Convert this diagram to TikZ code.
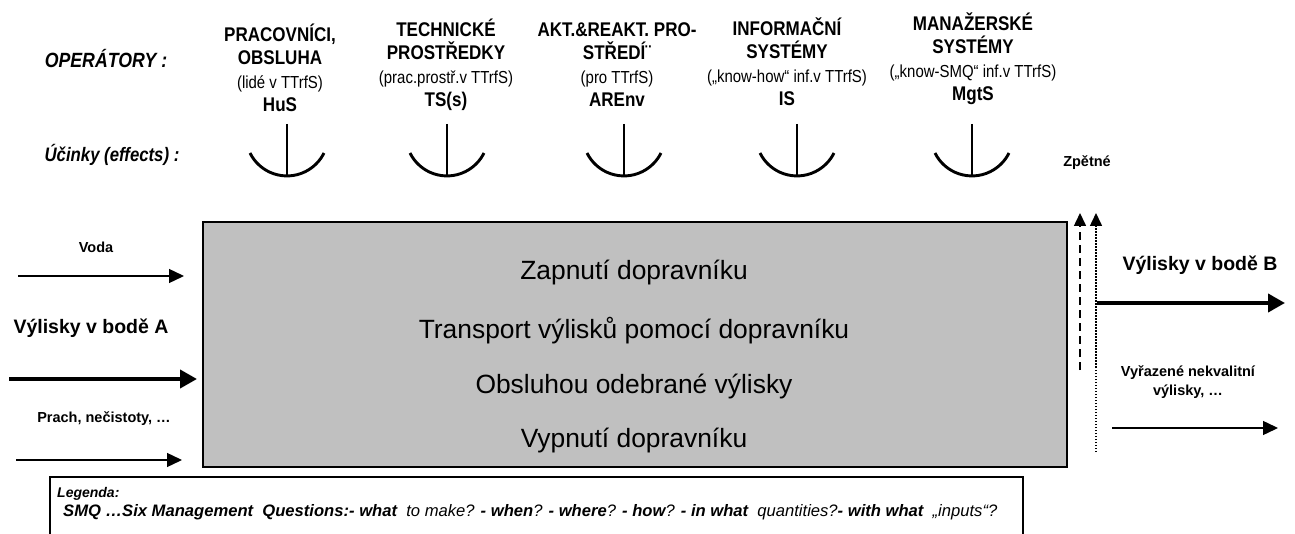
\documentclass[tikz,border=0pt]{standalone}
\usepackage{fontspec}
\setmainfont{Liberation Sans}
\newfontfamily\narrowsans[FakeStretch=0.86]{Liberation Sans}
\usepackage{tikz}
\usetikzlibrary{arrows.meta, positioning}
\definecolor{boxgray}{RGB}{192, 192, 192}
\newcommand{\opsmall}{\mdseries\fontsize{17.4}{23.5}\selectfont}
\newcommand{\effect}[1]{%
  \draw[line width=2.9pt] (#1,-124) -- (#1,-176);
  \draw[line width=2.9pt] (#1-37,-153) arc[start angle=206.4, end angle=333.6, radius=41.3];
}

\begin{document}
\begin{tikzpicture}[x=1pt, y=1pt,
    oper/.style={font=\narrowsans\bfseries\fontsize{19.8}{23.5}\selectfont, align=center, inner sep=0pt, anchor=base},
    lbl/.style={font=\bfseries\fontsize{14.5}{19}\selectfont, align=center, inner sep=0pt},
    biglbl/.style={font=\bfseries\fontsize{19.5}{23}\selectfont, inner sep=0pt},
    boxtext/.style={font=\fontsize{26.4}{30}\selectfont, inner sep=0pt, anchor=base},
    thinarrow/.style={line width=1.4pt, -{Triangle[length=15pt, width=14pt]}},
    thickarrow/.style={line width=4pt, -{Triangle[length=17pt, width=18pt]}}]
    \useasboundingbox (0,0) rectangle (1295,-534);
    % Operators header
    \node[font=\narrowsans\bfseries\itshape\fontsize{20.6}{24}\selectfont, inner sep=0pt, anchor=base] (operlbl) at (106,-68) {OPERÁTORY :};
    \node[oper] (hus) at (280,-112) {PRACOVNÍCI,\\OBSLUHA\\{\opsmall (lidé v TTrfS)}\\HuS};
    \node[oper] (tss) at (446,-107) {TECHNICKÉ\\PROSTŘEDKY\\{\opsmall (prac.prostř.v TTrfS)}\\TS(s)};
    \node[oper] (arenv) at (617,-107) {AKT.\&REAKT. PRO-\\STŘEDÍ¨\\{\opsmall (pro TTrfS)}\\AREnv};
    \node[oper] (infs) at (787,-106) {INFORMAČNÍ\\SYSTÉMY\\{\opsmall („know-how“ inf.v TTrfS)}\\IS};
    \node[oper] (mgts) at (973,-101) {MANAŽERSKÉ\\SYSTÉMY\\{\opsmall („know-SMQ“ inf.v TTrfS)}\\MgtS};
    % Effects
    \node[font=\narrowsans\bfseries\itshape\fontsize{19.5}{23}\selectfont, inner sep=0pt, anchor=base] (efflbl) at (112,-162) {Účinky (effects) :};
    \foreach \c in {287,447,624,797,972} {
      \effect{\c}
    }
    \node[font=\bfseries\fontsize{14.5}{18}\selectfont, inner sep=0pt, anchor=base] (zpetne) at (1087,-167) {Zpětné};
    % Process box
    \node[draw, fill=boxgray, line width=2.5pt, minimum width=864pt, minimum height=245pt] (proc) at (635,-344.5) {};
    \node[boxtext] (zap) at (634,-280) {Zapnutí dopravníku};
    \node[boxtext] (trans) at (634,-338) {Transport výlisků pomocí dopravníku};
    \node[boxtext] (odeb) at (634,-393) {Obsluhou odebrané výlisky};
    \node[boxtext] (vyp) at (634,-447) {Vypnutí dopravníku};
    % Inputs
    \node[lbl] (voda) at (96,-247) {Voda};
    \node[biglbl] (vylA) at (91,-328) {Výlisky v bodě A};
    \node[lbl] (prach) at (104,-419) {Prach, nečistoty, …};
    \coordinate (vodaS) at (18,-276);
    \coordinate (vodaE) at (184,-276);
    \coordinate (vylAS) at (9,-379);
    \coordinate (vylAE) at (197,-379);
    \coordinate (prachS) at (16,-460);
    \coordinate (prachE) at (182,-460);
    \draw[thinarrow] (vodaS) -- (vodaE);
    \draw[thickarrow] (vylAS) -- (vylAE);
    \draw[thinarrow] (prachS) -- (prachE);
    % Feedback (dashed and dotted)
    \coordinate (dashS) at (1080,-370);
    \coordinate (dashE) at (1080,-213);
    \coordinate (dotS) at (1096,-452);
    \coordinate (dotE) at (1096,-213);
    \draw[line width=1.5pt, dash pattern=on 8pt off 5pt, -{Triangle[length=13pt, width=12pt]}] (dashS) -- (dashE);
    \draw[line width=1.5pt, dash pattern=on 1.5pt off 1.5pt, -{Triangle[length=13pt, width=12pt]}] (dotS) -- (dotE);
    % Outputs
    \node[biglbl] (vylB) at (1200,-265) {Výlisky v bodě B};
    \node[lbl] (vyraz) at (1188,-382) {Vyřazené nekvalitní\\výlisky, …};
    \coordinate (vylBS) at (1097,-303);
    \coordinate (vylBE) at (1285,-303);
    \coordinate (vyrazS) at (1112,-428);
    \coordinate (vyrazE) at (1278,-428);
    \draw[thickarrow] (vylBS) -- (vylBE);
    \draw[thinarrow] (vyrazS) -- (vyrazE);
    % Legend
    \draw[line width=2pt] (50,-477) rectangle (1023,-545);
    \node[font=\bfseries\itshape\fontsize{14}{17}\selectfont, inner sep=0pt, anchor=base west] (legtitle) at (57,-497) {Legenda:};
    \node[font=\itshape\fontsize{16.6}{19}\selectfont, inner sep=0pt, anchor=base west] (smq) at (63,-516)
      {{\bfseries SMQ …Six Management\ \ Questions:- what}\ \ to make? {\bfseries - when}? {\bfseries - where}? {\bfseries - how}? {\bfseries - in what}\ \ quantities?{\bfseries - with what}\ \ „inputs“?};
  \end{tikzpicture}
\end{document}
